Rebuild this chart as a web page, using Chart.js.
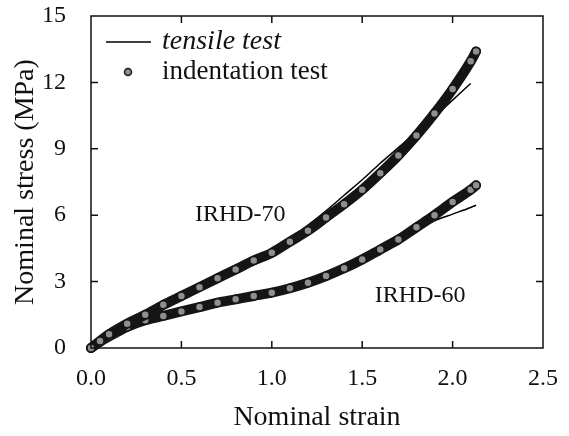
<!DOCTYPE html>
<html>
<head>
<meta charset="utf-8">
<script src="https://cdn.jsdelivr.net/npm/chart.js@4.4.1/dist/chart.umd.min.js"></script>
<style>
  html, body { margin: 0; padding: 0; background: #fff; }
  #wrap { width: 569px; height: 436px; }
</style>
</head>
<body>
<div id="wrap"><canvas id="stressStrain"></canvas></div>
<script>
// nominal strain / nominal stress (MPa) curves
const strainIndent = [0, 0.05, 0.1, 0.2, 0.3, 0.4, 0.5, 0.6, 0.7, 0.8, 0.9, 1.0, 1.1, 1.2, 1.3, 1.4, 1.5, 1.6, 1.7, 1.8, 1.9, 2.0, 2.1, 2.13];
const irhd70Indent = [0, 0.32, 0.62, 1.1, 1.5, 1.95, 2.35, 2.75, 3.15, 3.55, 3.95, 4.3, 4.8, 5.3, 5.9, 6.5, 7.15, 7.9, 8.7, 9.6, 10.6, 11.7, 12.95, 13.4];
const irhd60Indent = [0, 0.28, 0.52, 0.95, 1.25, 1.45, 1.65, 1.85, 2.05, 2.2, 2.35, 2.5, 2.7, 2.95, 3.25, 3.6, 4.0, 4.45, 4.9, 5.45, 6.0, 6.6, 7.15, 7.35];

const strainTensile70 = [0, 0.1, 0.2, 0.3, 0.4, 0.5, 0.6, 0.7, 0.8, 0.9, 1.0, 1.1, 1.2, 1.3, 1.4, 1.5, 1.6, 1.7, 1.8, 1.9, 2.0, 2.1];
const irhd70Tensile = [0, 0.62, 1.1, 1.5, 1.95, 2.35, 2.75, 3.15, 3.55, 3.95, 4.4, 4.95, 5.55, 6.2, 6.9, 7.6, 8.35, 9.05, 9.75, 10.45, 11.2, 11.95];
const strainTensile60 = [0, 0.1, 0.2, 0.3, 0.4, 0.5, 0.6, 0.7, 0.8, 0.9, 1.0, 1.1, 1.2, 1.3, 1.4, 1.5, 1.6, 1.7, 1.8, 1.9, 2.0, 2.1, 2.13];
const irhd60Tensile = [0, 0.52, 0.95, 1.25, 1.45, 1.65, 1.85, 2.05, 2.2, 2.35, 2.5, 2.7, 2.95, 3.25, 3.6, 4.0, 4.45, 4.9, 5.3, 5.75, 6.05, 6.35, 6.45];

const xTicks = [0, 0.5, 1.0, 1.5, 2.0, 2.5];
const yTicks = [0, 3, 6, 9, 12, 15];

const curveLabels = [
  { text: 'IRHD-70', x: 0.575, y: 6.0 },
  { text: 'IRHD-60', x: 1.57, y: 2.35 }
];
const legendItems = ['tensile test', 'indentation test'];

const SERIF = "'Liberation Serif', 'DejaVu Serif', serif";

function pairs(xs, ys) {
  return xs.map((v, i) => ({ x: v, y: ys[i] }));
}

function indentSet(data) {
  return {
    data: data,
    showLine: true,
    borderColor: '#151515',
    borderWidth: 10,
    borderCapStyle: 'round',
    cubicInterpolationMode: 'monotone',
    pointRadius: 4,
    pointBackgroundColor: '#8f8f8f',
    pointBorderColor: '#151515',
    pointBorderWidth: 1.5,
    clip: false
  };
}

function tensileSet(data) {
  return {
    data: data,
    showLine: true,
    borderColor: '#000',
    borderWidth: 1.5,
    cubicInterpolationMode: 'monotone',
    pointRadius: 0,
    clip: false
  };
}

// fixed axis sizes, no extra label padding around the plot
function fixSize(prop, size) {
  return scale => {
    scale[prop] = size;
    scale.paddingTop = 0;
    scale.paddingBottom = 0;
    scale.paddingLeft = 0;
    scale.paddingRight = 0;
  };
}

// frame with inward ticks on all four sides, curve labels and legend
const decorations = {
  id: 'decorations',
  afterDatasetsDraw(chart) {
    const { ctx, chartArea: a, scales: { x, y } } = chart;
    ctx.save();
    ctx.strokeStyle = '#111';
    ctx.lineWidth = 1.5;
    ctx.strokeRect(a.left, a.top, a.width, a.height);
    ctx.beginPath();
    xTicks.slice(1, -1).forEach(v => {
      const px = x.getPixelForValue(v);
      ctx.moveTo(px, a.bottom); ctx.lineTo(px, a.bottom - 7);
      ctx.moveTo(px, a.top); ctx.lineTo(px, a.top + 7);
    });
    yTicks.slice(1, -1).forEach(v => {
      const py = y.getPixelForValue(v);
      ctx.moveTo(a.left, py); ctx.lineTo(a.left + 7, py);
      ctx.moveTo(a.right, py); ctx.lineTo(a.right - 7, py);
    });
    ctx.stroke();

    ctx.fillStyle = '#111';
    ctx.textBaseline = 'middle';
    ctx.textAlign = 'left';
    ctx.font = '24px ' + SERIF;
    curveLabels.forEach(l => {
      ctx.fillText(l.text, x.getPixelForValue(l.x), y.getPixelForValue(l.y));
    });

    // legend
    const lx = a.left + 15, ly = a.top + 26;
    ctx.beginPath();
    ctx.lineWidth = 1.5;
    ctx.strokeStyle = '#000';
    ctx.moveTo(lx, ly); ctx.lineTo(lx + 45, ly);
    ctx.stroke();
    ctx.beginPath();
    ctx.arc(lx + 22, ly + 30, 3.5, 0, Math.PI * 2);
    ctx.fillStyle = '#8f8f8f';
    ctx.fill();
    ctx.lineWidth = 1.5;
    ctx.strokeStyle = '#151515';
    ctx.stroke();
    ctx.fillStyle = '#111';
    ctx.font = 'italic 28px ' + SERIF;
    ctx.fillText(legendItems[0], lx + 56, ly);
    ctx.font = '27px ' + SERIF;
    ctx.fillText(legendItems[1], lx + 56, ly + 30);
    ctx.restore();
  }
};

const ctx = document.getElementById('stressStrain').getContext('2d');
new Chart(ctx, {
  type: 'scatter',
  data: {
    datasets: [
      indentSet(pairs(strainIndent, irhd70Indent)),
      indentSet(pairs(strainIndent, irhd60Indent)),
      tensileSet(pairs(strainTensile70, irhd70Tensile)),
      tensileSet(pairs(strainTensile60, irhd60Tensile))
    ]
  },
  options: {
    responsive: true,
    maintainAspectRatio: false,
    animation: false,
    layout: { padding: { top: 16, right: 26, bottom: 0, left: 0 } },
    plugins: {
      legend: { display: false },
      tooltip: { enabled: false }
    },
    scales: {
      x: {
        type: 'linear',
        min: 0,
        max: 2.5,
        afterFit: fixSize('height', 88),
        grid: { display: false, drawTicks: false },
        border: { display: false },
        ticks: {
          stepSize: 0.5,
          padding: 16,
          color: '#111',
          font: { family: SERIF, size: 24 },
          callback: v => v.toFixed(1)
        },
        title: {
          display: true,
          text: 'Nominal strain',
          color: '#111',
          font: { family: SERIF, size: 28 },
          padding: { top: 7, bottom: 2 }
        }
      },
      y: {
        min: 0,
        max: 15,
        afterFit: fixSize('width', 91),
        grid: { display: false, drawTicks: false },
        border: { display: false },
        ticks: {
          stepSize: 3,
          padding: 25,
          color: '#111',
          font: { family: SERIF, size: 24 }
        },
        title: {
          display: true,
          text: 'Nominal stress (MPa)',
          color: '#111',
          font: { family: SERIF, size: 28 },
          padding: { top: 8.5, bottom: 0 }
        }
      }
    }
  },
  plugins: [decorations]
});
</script>
</body>
</html>
